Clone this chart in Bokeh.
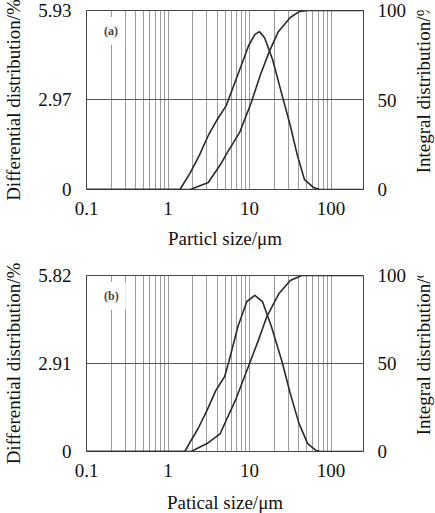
import math
from bokeh.plotting import figure
from bokeh.models import Range1d, LinearAxis, FixedTicker, NumeralTickFormatter, Label
from bokeh.core.properties import value
from bokeh.layouts import column, row
from bokeh.embed import file_html
from bokeh.resources import INLINE

# ---------------- data ----------------
# Panel (a)
a_diff_size = [0.1, 1.4, 1.88, 2.42, 3.12, 4.02, 5.18, 7.57, 9.75, 11.6, 13.2, 15.3,
               19.2, 24.6, 31.6, 38.6, 47.2, 60.7, 72.3, 250]
a_diff_val = [0, 0, 0.56, 1.13, 1.79, 2.32, 2.78, 3.97, 4.77, 5.13, 5.23, 5.03,
              4.30, 3.21, 2.12, 1.13, 0.33, 0.07, 0, 0]
a_int_size = [0.1, 1.88, 3.12, 4.56, 5.18, 7.57, 10.5, 13.5, 17.3, 22.3, 31.6, 40.6, 52.2, 250]
a_int_val = [0, 0, 3.9, 15.1, 19.6, 31.9, 48.6, 63.7, 76.6, 87.8, 96.1, 99.4, 100, 100]

# Panel (b)
b_diff_size = [0.1, 1.61, 1.82, 2.34, 3.01, 3.86, 4.96, 5.62, 7.22, 9.27, 11.6, 14.4,
               18.5, 24.8, 31.6, 40.4, 51.6, 65.9, 74.5, 250]
b_diff_val = [0, 0, 0.26, 0.76, 1.36, 2.02, 2.48, 3.01, 4.14, 4.96, 5.16, 4.96,
              4.14, 3.01, 1.92, 0.93, 0.26, 0.03, 0, 0]
b_int_size = [0.1, 1.92, 3.01, 4.38, 4.96, 6.70, 10.0, 12.8, 16.3, 23.0, 31.6, 43.5, 250]
b_int_val = [0, 0, 4.5, 10.2, 15.9, 29, 50, 63, 76.7, 89.8, 97.2, 100, 100]

x_ticks = [0.1, 1, 10, 100]
a_left_ticks = [0, 2.97, 5.93]
b_left_ticks = [0, 2.91, 5.82]
right_ticks = [0, 50, 100]
grid_mult = [1, 2, 3, 4, 5, 6, 7, 8, 9]
grid_decades = [0.1, 1, 10]

left_title = "Differential distribution/%"
right_title = "Integral distribution/%"

FONT = "Liberation Serif"
SIDE_W = 28


def style_axis(ax, title_size):
    ax.axis_line_color = None
    ax.major_tick_line_color = None
    ax.minor_tick_line_color = None
    ax.major_label_text_font = FONT
    ax.major_label_text_font_size = "19px"
    ax.major_label_text_color = "#111111"
    ax.axis_label_text_font = FONT
    ax.axis_label_text_font_size = title_size
    ax.axis_label_text_font_style = "normal"
    ax.axis_label_text_color = "#111111"
    ax.major_label_standoff = 9


def side_strip(total_h, y_frac):
    # narrow companion figure that holds the right-hand title, reading bottom-to-top
    s = figure(width=SIDE_W, height=total_h, x_range=Range1d(0, 1), y_range=Range1d(0, 1),
               x_axis_location=None, y_axis_location=None,
               min_border=0, output_backend="svg", toolbar_location=None)
    s.grid.visible = False
    s.outline_line_color = None
    s.background_fill_color = "white"
    s.border_fill_color = "white"
    s.text(x=[0.5], y=[y_frac], text=[right_title], angle=math.pi / 2,
           text_font=value(FONT), text_font_size="19px", text_color="#111111",
           text_align="center", text_baseline="middle")
    return s


def make_panel(tag, xlabel, ymax, left_ticks, dx, dy, ix, iy, btop, fh, bbot, xl_standoff):
    p = figure(x_axis_type="log", x_range=Range1d(0.1, 250), y_range=Range1d(0, ymax),
               frame_width=277, frame_height=fh,
               min_border_left=82, min_border_right=38,
               min_border_top=btop, min_border_bottom=bbot,
               output_backend="svg", toolbar_location=None)
    p.background_fill_color = "white"
    p.border_fill_color = "white"
    p.outline_line_color = "#444444"
    p.outline_line_width = 1

    p.extra_y_ranges = {"int": Range1d(0, 100)}

    # grid
    p.xgrid.ticker = FixedTicker(ticks=[m * d for d in grid_decades for m in grid_mult] + [100])
    p.xgrid.grid_line_color = "#9a9a9a"
    p.xgrid.grid_line_width = 1
    p.ygrid.ticker = FixedTicker(ticks=[left_ticks[1]])
    p.ygrid.grid_line_color = "#555555"
    p.ygrid.grid_line_width = 1

    # axes
    p.xaxis.ticker = FixedTicker(ticks=x_ticks)
    p.xaxis.formatter = NumeralTickFormatter(format="0.[0]")
    p.xaxis.axis_label = xlabel
    p.yaxis.ticker = FixedTicker(ticks=left_ticks)
    p.yaxis.formatter = NumeralTickFormatter(format="0.[00]")
    p.yaxis.axis_label = left_title
    rax = LinearAxis(y_range_name="int", ticker=FixedTicker(ticks=right_ticks))
    p.add_layout(rax, "right")
    style_axis(p.xaxis[0], "19px")
    style_axis(p.yaxis[0], "19px")
    style_axis(rax, "19px")
    p.xaxis.major_label_standoff = 6
    p.xaxis.axis_label_standoff = xl_standoff
    p.yaxis[0].axis_label_standoff = 11
    rax.major_label_standoff = 8

    # curves
    p.line(dx, dy, line_color="#2a2a2a", line_width=1.6)
    p.line(ix, iy, y_range_name="int", line_color="#2a2a2a", line_width=1.6)

    p.add_layout(Label(x=0.135, y=ymax * 0.885, text=tag, text_font=FONT,
                       text_font_size="12px", text_font_style="bold",
                       text_baseline="middle", text_align="left",
                       background_fill_color="white", padding=7))
    return p


p1 = make_panel("(a)", "Particl size/μm", 5.93, a_left_ticks,
                a_diff_size, a_diff_val, a_int_size, a_int_val, 10, 179, 61, 10)
p2 = make_panel("(b)", "Patical size/μm", 5.82, b_left_ticks,
                b_diff_size, b_diff_val, b_int_size, b_int_val, 24, 176, 55, 12)
s1 = side_strip(250, 0.57)
s2 = side_strip(255, 0.56)

layout = column(row(p1, s1), row(p2, s2))
open("out.html", "w").write(file_html(layout, INLINE))
